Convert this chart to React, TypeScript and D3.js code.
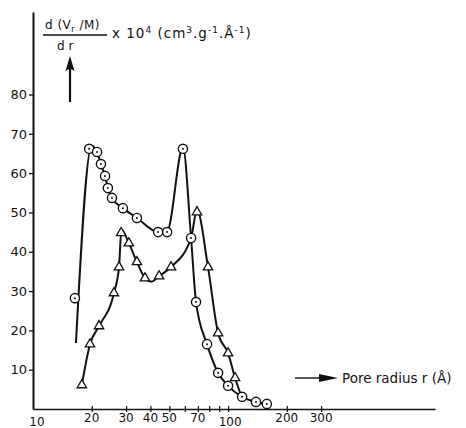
import * as d3 from 'd3';
import { useEffect, useRef } from 'react';

// pore radius r (Å) vs d(Vr/M)/dr x 10^4
const circleR = [16.4, 19.4, 21.3, 22.3, 23.4, 24.2, 25.4, 28.9, 34.1, 43.8, 48.7, 58.7, 64.6, 68.5, 78.0, 88.9, 100, 118, 139, 158];
const circleV = [28.2, 66.2, 65.4, 62.3, 59.3, 56.2, 53.7, 51.1, 48.6, 45.0, 45.0, 66.2, 43.5, 27.2, 16.5, 9.2, 5.9, 3.1, 1.8, 1.3];

// drawn line for the circles (the first circle is off the line)
const circleLineR = [16.6, 20.0, 21.3, 22.3, 23.4, 24.2, 25.4, 28.9, 34.1, 43.8, 48.7, 58.7, 64.6, 68.5, 78.0, 88.9, 100, 118, 139, 160];
const circleLineV = [16.8, 67.0, 65.4, 62.3, 59.3, 56.2, 53.7, 51.1, 48.6, 45.0, 45.2, 66.6, 43.5, 27.2, 16.5, 9.2, 5.9, 3.1, 1.8, 1.2];

const triangleR = [17.8, 19.6, 21.8, 26.0, 27.6, 28.3, 31.0, 34.1, 37.5, 44.3, 51.0, 69.3, 78.9, 88.9, 100, 108.6];
const triangleV = [6.1, 16.5, 21.1, 29.5, 36.1, 44.8, 42.2, 37.4, 33.3, 33.8, 36.1, 50.1, 36.1, 19.3, 14.2, 7.9];

const triangleLineR = [17.8, 19.6, 21.8, 26.0, 27.6, 28.4, 31.0, 34.1, 37.5, 40.5, 44.3, 51.0, 64.6, 69.3, 78.9, 88.9, 100, 108.6, 118];
const triangleLineV = [6.1, 16.5, 21.1, 29.5, 36.1, 45.6, 42.2, 37.4, 33.3, 32.4, 33.8, 36.1, 43.5, 50.6, 36.1, 19.3, 14.2, 7.9, 2.8];

const yTicks = [10, 20, 30, 40, 50, 60, 70, 80];
const xTickMarks = [20, 30, 40, 50, 60, 70, 80, 90, 100, 200, 300];
const xTickLabels = ['10', '20', '30', '40', '50', '70', '100', '200', '300'];

export default function App() {
    const chartRef = useRef<SVGSVGElement | null>(null);

    useEffect(() => {
        if (!chartRef.current) return;
        const svg = d3.select(chartRef.current);
        svg.selectAll('*').remove();

        const font = "'DejaVu Sans', sans-serif";
        const ink = '#111';

        const x = d3.scaleLog().domain([10, 1150]).range([33, 435]);
        const y = d3.scaleLinear().domain([0, 101]).range([409, 12]);

        // y axis
        svg.append('g')
            .attr('transform', `translate(${x(10)},0)`)
            .call(d3.axisLeft(y).tickValues(yTicks).tickSizeInner(4).tickSizeOuter(0).tickPadding(2))
            .call((g) => g.select('.domain').attr('stroke', ink).attr('stroke-width', 2))
            .call((g) => g.selectAll('.tick line').attr('stroke', ink).attr('stroke-width', 1.3))
            .call((g) =>
                g.selectAll('.tick text').attr('fill', ink).style('font-family', font).style('font-size', '13px')
            );

        // x axis
        svg.append('g')
            .attr('transform', `translate(0,${y(0)})`)
            .call(d3.axisBottom(x).tickValues(xTickMarks).tickFormat(() => '').tickSizeInner(3).tickSizeOuter(0))
            .call((g) => g.select('.domain').attr('stroke', ink).attr('stroke-width', 1.6))
            .call((g) => g.selectAll('.tick line').attr('y1', -3).attr('stroke', ink).attr('stroke-width', 1.2));

        // "10" and "100" sit a little lower in the original
        svg.append('g')
            .selectAll('text')
            .data(xTickLabels)
            .join('text')
            .attr('x', (d) => x(+d) + (d === '10' ? 4 : d === '100' ? 2 : 0))
            .attr('y', (d) => (d === '10' || d === '100' ? 426 : 422))
            .attr('text-anchor', 'middle')
            .attr('fill', ink)
            .style('font-family', font)
            .style('font-size', '12px')
            .text((d) => d);

        // curves
        const line = d3
            .line<number>()
            .x((d) => x(d))
            .curve(d3.curveMonotoneX);

        svg.append('path')
            .attr('d', line.y((_, i) => y(circleLineV[i]))(circleLineR))
            .attr('fill', 'none')
            .attr('stroke', ink)
            .attr('stroke-width', 2);

        svg.append('path')
            .attr('d', line.y((_, i) => y(triangleLineV[i]))(triangleLineR))
            .attr('fill', 'none')
            .attr('stroke', ink)
            .attr('stroke-width', 2);

        // circle markers
        const circles = svg
            .append('g')
            .selectAll('g')
            .data(circleR.map((r, i) => [r, circleV[i]]))
            .join('g')
            .attr('transform', (d) => `translate(${x(d[0])},${y(d[1])})`);
        circles.append('circle').attr('r', 4.6).attr('fill', '#fff').attr('stroke', ink).attr('stroke-width', 1.4);
        circles.append('circle').attr('r', 1).attr('fill', ink);

        // triangle markers
        svg.append('g')
            .selectAll('path')
            .data(triangleR.map((r, i) => [r, triangleV[i]]))
            .join('path')
            .attr('transform', (d) => `translate(${x(d[0])},${y(d[1])})`)
            .attr('d', d3.symbol(d3.symbolTriangle, 38)())
            .attr('fill', '#fff')
            .attr('stroke', ink)
            .attr('stroke-width', 1.3);

        // y title
        const title = svg.append('g').attr('fill', ink).style('font-family', font);
        const num = title
            .append('text')
            .attr('x', 45)
            .attr('y', 29)
            .style('font-size', '12px')
            .style('letter-spacing', '0.5px');
        num.append('tspan').text('d (V');
        num.append('tspan').attr('dy', 3).style('font-size', '8px').text('r');
        num.append('tspan').attr('dy', -3).text(' /M)');
        title.append('line')
            .attr('x1', 43)
            .attr('x2', 107)
            .attr('y1', 35)
            .attr('y2', 35)
            .attr('stroke', ink)
            .attr('stroke-width', 1.4);
        title.append('text').attr('x', 57).attr('y', 50).style('font-size', '12px').text('d r');

        const units = title
            .append('text')
            .attr('x', 112)
            .attr('y', 38)
            .style('font-size', '13.5px')
            .style('letter-spacing', '1px');
        units.append('tspan').text('x 10');
        units.append('tspan').attr('dy', -5).style('font-size', '9px').text('4');
        units.append('tspan').attr('dy', 5).text(' (cm');
        units.append('tspan').attr('dy', -5).style('font-size', '9px').text('3');
        units.append('tspan').attr('dy', 5).text('.g');
        units.append('tspan').attr('dy', -5).style('font-size', '9px').text('-1');
        units.append('tspan').attr('dy', 5).text('.Å');
        units.append('tspan').attr('dy', -5).style('font-size', '9px').text('-1');
        units.append('tspan').attr('dy', 5).text(')');

        // arrow up under the fraction
        title.append('line')
            .attr('x1', 70)
            .attr('x2', 70)
            .attr('y1', 102)
            .attr('y2', 66)
            .attr('stroke', ink)
            .attr('stroke-width', 2.2);
        title.append('path').attr('d', 'M70,56 L74.5,71 L70,68.5 L65.5,71 Z');

        // x title with arrow
        const xt = svg.append('g').attr('fill', ink).style('font-family', font);
        xt.append('line')
            .attr('x1', 295)
            .attr('x2', 322)
            .attr('y1', 378)
            .attr('y2', 378)
            .attr('stroke', ink)
            .attr('stroke-width', 1.4);
        xt.append('path').attr('d', 'M319,374 L338,378 L319,382 Z');
        xt.append('text').attr('x', 342).attr('y', 383).style('font-size', '13.5px').text('Pore radius r (Å)');
    }, []);

    return (
        <svg
            ref={chartRef}
            width={466}
            height={428}
            style={{ position: 'absolute', left: 0, top: 0, background: '#fff' }}
        />
    );
}
